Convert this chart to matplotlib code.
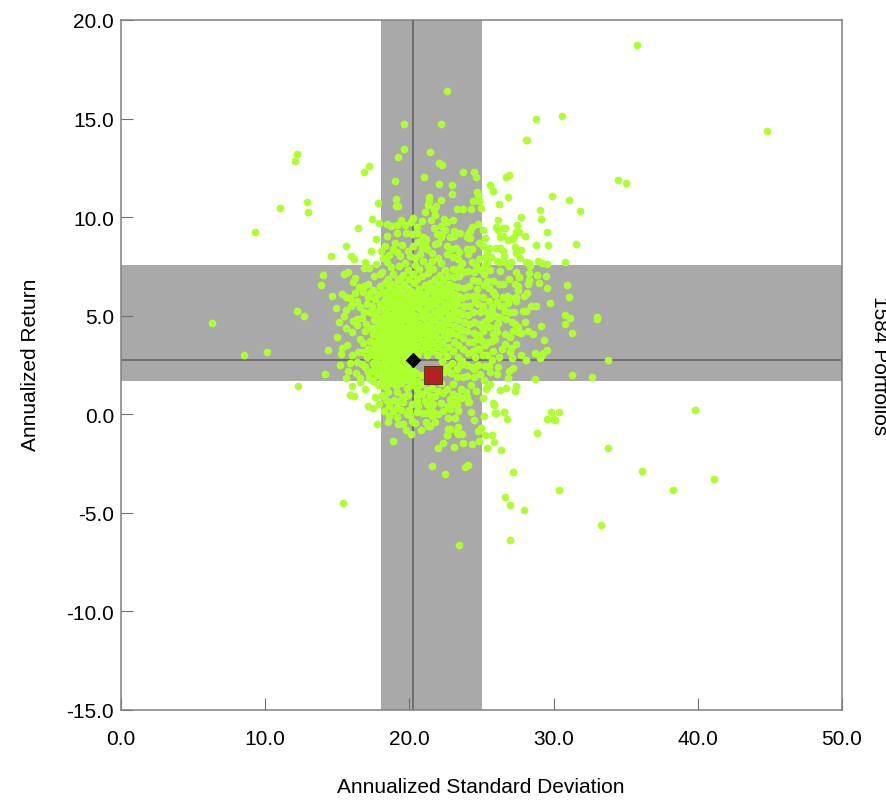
import matplotlib
matplotlib.use("Agg")
import matplotlib.pyplot as plt

plt.rcParams['font.family'] = ['Liberation Sans', 'DejaVu Sans']

# Portfolios: (annualized std dev, annualized return)
outliers = [(6.3,4.65),(8.5,3.0),(10.1,3.15),(9.3,9.25),(11.0,10.45),(12.1,12.85),(12.2,13.2),(12.9,10.75),(13.0,10.25),
(12.2,5.25),(12.7,5.0),(12.3,1.45),(15.4,-4.5),(35.8,18.75),(44.8,14.35),(22.6,16.4),(19.6,14.75),(22.2,14.7),(30.6,15.15),
(28.8,15.0),(28.1,13.9),(34.5,11.9),(35.0,11.75),(39.8,0.2),(41.1,-3.3),(38.3,-3.85),(36.1,-2.9),(33.3,-5.6),(33.8,-1.7),
(30.4,-3.85),(33.0,4.85),(33.8,2.75),(32.65,1.9),(31.3,2.0)]

upper_left = [(19.62,13.46),(19.21,13.04),(21.45,13.29),(22.07,12.73),(22.26,12.62),(17.22,12.58),(16.85,12.28),(19.0,11.84),
(20.99,12.04),(22.07,11.7),(17.82,10.72),(19.05,10.93),(19.05,10.59),(19.23,10.54),(21.36,11.03),(21.38,10.84),(22.19,10.88),
(21.31,10.6),(21.84,10.55),(21.73,10.39),(21.1,10.25),(21.77,10.11),(17.38,9.91),(17.87,9.69),(16.46,9.44),(19.42,9.86),
(20.27,9.95),(20.09,9.74),(18.47,9.64),(18.7,9.57),(19.12,9.61),(19.16,9.22),(20.85,9.79),(21.5,9.84),(22.4,9.91),(22.58,9.74),
(20.5,9.49),(21.73,9.44),(22.21,9.54),(22.47,9.37),(19.78,9.22),(20.15,9.15),(20.5,9.18),(22.24,9.15),(18.44,9.02),(20.92,8.98),
(21.15,8.9),(21.08,8.69),(22.17,8.98),(18.31,8.52),(19.0,8.68),(20.22,8.52),(18.88,8.39),(21.77,8.64),(22.0,8.69),(21.2,8.36),
(15.6,8.56),(17.33,8.27),(14.54,8.05),(15.95,8.02),(16.18,7.88),(16.94,7.73),(16.87,7.43),(14.03,7.09),(15.74,7.24),(15.44,7.12),
(16.22,6.9),(16.06,6.7),(13.87,6.55),(16.85,6.53),(17.57,7.0),(18.12,7.2),(18.47,7.75),(19.11,8.22),(19.35,8.05),(20.04,8.05),
(20.73,8.14),(20.96,7.8),(21.31,7.54),(21.96,7.92),(22.58,8.14),(22.58,8.56)]

upper_right = [(28.14,13.92),(23.7,12.28),(24.48,12.28),(24.62,12.06),(26.68,12.06),(26.89,12.16),(25.57,11.65),(25.78,11.32),
(22.94,11.65),(22.98,11.16),(24.67,11.3),(24.79,11.13),(26.84,11.01),(29.87,11.06),(31.07,10.89),(24.39,10.81),(24.83,10.81),
(26.2,10.67),(31.84,10.3),(24.95,10.47),(24.25,10.42),(23.7,10.39),(23.33,10.4),(29.04,10.37),(27.72,10.03),(29.13,9.9),(23.05,9.86),
(26.15,9.86),(25.99,9.52),(26.13,9.37),(26.52,9.44),(26.66,9.47),(27.44,9.61),(24.74,9.66),(25.11,9.34),(24.32,9.49),(24.21,9.32),
(24.09,9.15),(23.98,8.98),(24.21,8.93),(23.1,9.32),(23.1,9.03),(27.4,9.24),(27.63,9.24),(29.55,9.24),(28.0,9.05),(26.29,8.98),
(26.52,9.03),(26.87,8.86),(27.1,8.9),(27.28,8.98),(25.27,8.93),(24.85,8.69),(28.81,8.58),(29.6,8.59),(31.58,8.64),(27.33,8.49),
(27.77,8.32),(27.4,8.19),(25.53,8.42),(25.13,8.53),(26.01,8.46),(26.29,8.42),(26.47,8.27),(25.36,8.22),(25.66,7.97),(25.25,7.97),
(24.85,7.88),(26.57,8.02),(26.1,7.8),(26.29,7.75),(27.05,7.75),(26.75,7.68),(26.93,7.54),(27.7,7.92),(28.09,7.73),(28.39,7.53),
(28.32,7.66),(28.95,7.78),(29.22,7.68),(29.55,7.61),(30.8,7.75),(25.36,7.68),(25.25,7.54),(25.59,7.31),(26.31,7.29),(24.95,7.34),
(27.4,7.21),(28.32,7.19),(28.85,7.07),(27.61,6.94),(26.89,6.85),(28.21,6.63),(28.97,6.65),(27.56,6.51),(30.94,6.55),(29.57,6.41),
(26.24,6.61),(25.83,6.75),(25.36,6.78),(24.79,6.78),(24.44,6.83),(24.48,7.21),(24.09,7.29),(23.79,7.21),(23.51,7.46),(23.0,7.38),
(23.4,7.88),(23.63,7.68),(23.24,8.42),(23.47,8.25),(23.98,8.36),(24.32,8.39),(24.09,8.14),(24.32,7.75),(23.05,7.97)]

lower_right = [(31.07,5.94),(29.78,5.67),(28.81,5.48),(32.99,4.91),(30.8,5.04),(31.17,4.86),(30.82,4.57),(29.11,4.48),(31.28,4.11),
(29.32,3.77),(28.18,6.16),(27.95,5.99),(27.56,6.28),(27.42,5.94),(27.42,5.75),(26.87,5.63),(26.8,6.02),(26.47,5.94),(26.29,5.48),
(26.52,5.51),(26.63,5.26),(26.98,5.18),(27.26,5.18),(27.86,5.24),(28.09,5.23),(26.31,4.92),(27.33,4.58),(27.56,4.42),(27.17,4.25),
(27.54,4.16),(27.74,4.11),(28.23,4.2),(28.58,4.09),(26.17,4.62),(26.01,4.42),(25.83,4.08),(25.55,4.42),(25.13,4.25),(25.02,4.42),
(25.48,4.84),(25.71,5.18),(25.71,5.43),(25.55,5.77),(25.13,5.51),(24.44,6.02),(24.67,5.99),(25.13,5.94),(25.83,6.19),(25.94,6.06),
(26.06,4.16),(25.94,3.82),(25.48,3.69),(25.71,3.74),(26.63,3.54),(27.05,3.37),(27.42,3.54),(25.25,3.49),(24.67,3.82),(24.44,3.65),
(26.98,3.15),(27.14,2.84),(27.74,3.03),(28.69,3.1),(29.29,3.11),(29.55,3.25),(29.18,3.03),(29.06,2.84),(28.07,2.74),(26.24,2.89),
(25.76,2.74),(24.55,2.89),(25.25,2.47),(25.55,2.44),(26.13,2.42),(25.62,2.12),(26.08,2.03),(26.94,2.18),(27.17,2.34),(26.84,1.83),
(28.72,1.79),(25.18,1.76),(24.51,1.88),(23.98,1.96),(23.7,1.91),(23.28,1.88),(23.0,1.54),(24.25,1.49),(23.58,1.3),(25.59,1.54),
(25.32,1.29),(25.36,1.37),(26.29,1.24),(26.7,1.35),(27.4,1.42),(27.33,1.17),(25.13,0.83),(25.83,0.56),(25.87,0.46),(25.99,0.05),
(26.57,0.12),(26.77,-0.25),(25.16,-0.07),(29.83,0.14),(29.55,-0.22),(29.99,-0.25),(28.83,-0.96),(25.73,-1.06),(25.22,-1.03),
(24.97,-0.69),(24.79,-0.83),(24.51,-0.27),(24.09,0.61),(23.17,-0.2),(23.05,1.03),(23.33,0.86),(23.58,0.83),(22.94,0.61),(23.28,0.53),
(23.4,0.19),(23.28,-0.83),(23.63,-0.99),(23.4,-0.99),(22.82,-0.74)]

lower_left = [(15.32,6.12),(15.58,5.94),(15.88,5.89),(16.22,6.16),(16.76,6.19),(17.15,5.94),(16.11,5.65),(16.39,5.77),(15.92,5.48),
(15.58,5.31),(15.46,5.01),(16.87,5.18),(17.26,5.21),(17.38,5.14),(16.06,4.75),(16.34,4.84),(16.73,4.87),(16.34,4.53),(16.04,4.16),
(16.92,4.25),(16.57,3.82),(14.33,3.27),(15.3,3.35),(15.23,3.08),(16.46,3.15),(16.69,3.15),(15.18,2.5),(15.76,2.2),(14.17,2.05),
(15.6,1.84),(16.57,1.84),(16.57,1.62),(16.04,1.42),(15.85,1.0),(16.13,0.95),(17.59,0.86),(17.8,1.49),(17.22,1.83),(17.45,1.71),
(17.15,2.17),(16.92,2.39),(16.34,2.64),(17.03,2.89),(17.75,-0.51),(18.49,-0.4),(19.14,-0.15),(18.26,0.15),(18.88,0.15),(18.61,0.41),
(18.61,0.61),(19.11,0.32),(18.07,1.0),(19.53,-0.47),(19.74,-0.78),(20.11,-1.0),(20.8,-0.78),(21.31,-0.59),(21.15,-0.4),(20.39,-0.44),
(20.2,-0.34),(19.81,0.0),(20.04,-0.03),(20.5,0.1),(20.85,0.07),(21.15,0.07),(21.54,-0.07),(21.66,0.14),(22.31,0.17),(22.17,0.58),
(21.2,0.53),(22.58,-1.05),(22.7,-0.74),(22.35,1.08),(21.77,0.95),(21.43,0.78),(20.62,0.44),(20.16,0.53),(19.58,0.61),(19.23,0.61),
(19.69,0.95),(19.11,1.12),(18.54,1.12),(20.5,0.95),(18.84,-1.34),(21.32,-0.61),(21.43,-0.58),(22.77,-0.76),(23.33,-0.88),(23.4,-0.66),
(22.61,-1.07),(22.31,-1.47),(22.01,-1.73),(23.07,-1.66),(23.72,-1.44),(24.37,-1.49),(24.81,-1.35),(25.89,-1.42),(25.39,-1.71),
(26.38,-1.81),(21.59,-2.64),(22.5,-3.03),(23.86,-2.66),(24.07,-2.59),(27.17,-2.94),(26.63,-4.21),(27.0,-4.58),(27.97,-4.84),
(26.98,-6.39),(23.47,-6.65),(26.54,0.12),(25.96,0.05),(25.87,0.52),(22.82,0.27),(22.66,0.44),(22.2,0.57),(21.66,0.52),(21.43,0.35),
(21.08,0.66),(20.51,0.69),(18.2,0.95),(19.47,0.86),(21.43,0.95),(22.82,0.78),(23.4,0.95),(23.17,0.52),(24.11,0.62),(23.35,0.24),(30.4,0.1),(30.1,-0.3)]

# Dense cloud around the two centres
core_left = [(17.4,2.2),(17.5,2.6),(17.35,3.0),(17.55,3.35),(17.3,3.7),(17.5,4.05),(17.35,4.4),(17.55,4.8),(17.4,5.5),(17.6,5.85),(17.45,6.3),
(17.75,2.0),(17.8,2.35),(17.7,2.75),(17.85,3.1),(17.75,3.5),(17.85,3.85),(17.7,4.2),(17.9,4.55),(17.75,4.95),(17.9,5.3),(17.8,6.1),(17.95,6.5),
(18.05,1.5),(18.1,1.85),(18.15,2.2),(18.05,2.55),(18.2,2.9),(18.1,3.25),(18.2,3.6),(18.05,3.95),(18.2,4.3),(18.1,4.65),(18.25,5.0),(18.1,5.4),(18.25,5.75),(18.15,6.2),(18.3,6.65),
(18.4,1.4),(18.45,1.75),(18.5,2.1),(18.4,2.45),(18.5,2.8),(18.45,3.15),(18.55,3.5),(18.4,3.85),(18.55,4.2),(18.45,4.55),(18.55,4.9),(18.4,5.25),(18.55,5.6),(18.45,5.95),(18.6,6.35),(18.5,6.85),
(18.75,1.6),(18.8,1.95),(18.85,2.3),(18.75,2.65),(18.85,3.0),(18.8,3.35),(18.9,3.7),(18.75,4.05),(18.9,4.4),(18.8,4.75),(18.9,5.1),(18.75,5.45),(18.9,5.8),(18.8,6.15),(18.95,6.55),(18.85,7.1),(18.7,7.45),
(19.1,1.45),(19.15,1.8),(19.2,2.15),(19.1,2.5),(19.2,2.85),(19.15,3.2),(19.25,3.55),(19.1,3.9),(19.25,4.25),(19.15,4.6),(19.25,4.95),(19.1,5.3),(19.25,5.65),(19.15,6.0),(19.3,6.4),(19.2,6.8),(19.25,7.5),
(19.45,1.6),(19.5,1.95),(19.55,2.3),(19.45,2.65),(19.55,3.0),(19.5,3.35),(19.6,3.7),(19.45,4.05),(19.6,4.4),(19.5,4.75),(19.6,5.1),(19.45,5.45),(19.6,5.8),(19.5,6.2),(19.65,6.6),(19.55,7.05),(19.7,7.65),
(19.8,1.35),(19.85,1.75),(19.9,2.1),(19.8,2.45),(19.9,3.15),(19.85,3.5),(19.95,3.85),(19.8,4.2),(19.95,4.55),(19.85,4.9),(19.95,5.25),(19.8,5.6),(19.95,5.95),(19.85,6.4),(20.0,6.85),(19.9,7.3),
(20.15,1.5),(20.2,1.9),(20.25,2.2),(20.2,3.3),(20.25,3.65),(20.15,4.0),(20.3,4.35),(20.2,4.7),(20.3,5.05),(20.15,5.4),(20.3,5.8),(20.2,6.2),(20.35,6.65),(20.25,7.1),(20.4,7.55),
(20.5,1.3),(20.55,1.7),(20.45,2.1),(20.6,3.05),(20.5,3.45),(20.6,3.85),(20.5,4.2),(20.65,4.6),(20.5,5.0),(20.65,5.4),(20.55,5.85),(20.65,6.35),(20.55,6.85),(20.7,7.35)]

core_right = [(20.85,1.55),(20.9,2.0),(20.95,3.3),(20.85,3.7),(21.0,4.1),(20.85,4.5),(21.0,4.9),(20.9,5.3),(21.0,5.7),(20.9,6.1),(21.05,6.55),(20.9,7.0),
(21.2,1.25),(21.25,3.0),(21.3,3.4),(21.2,3.8),(21.35,4.2),(21.25,4.6),(21.35,5.0),(21.2,5.4),(21.35,5.8),(21.25,6.2),(21.4,6.65),(21.3,7.15),
(21.55,3.2),(21.65,3.6),(21.55,4.0),(21.7,4.4),(21.6,4.8),(21.7,5.2),(21.55,5.6),(21.7,6.0),(21.6,6.4),(21.75,6.85),(21.65,7.35),
(22.2,1.6),(22.0,1.2),(22.0,3.0),(21.9,3.4),(22.0,3.8),(21.9,4.2),(22.05,4.6),(21.95,5.0),(22.05,5.4),(21.9,5.8),(22.05,6.2),(21.95,6.6),(22.1,7.05),
(22.25,2.7),(22.35,3.2),(22.25,3.6),(22.4,4.0),(22.3,4.4),(22.4,4.8),(22.25,5.2),(22.4,5.6),(22.3,6.0),(22.4,6.4),(22.3,6.8),(22.45,7.3),
(22.6,2.4),(22.6,2.95),(22.7,3.4),(22.6,3.85),(22.75,4.25),(22.65,4.65),(22.75,5.05),(22.6,5.45),(22.75,5.85),(22.65,6.2),(22.75,6.6),(22.65,7.0),
(22.95,2.6),(23.0,3.2),(23.1,3.65),(22.95,4.1),(23.1,4.5),(23.0,4.9),(23.1,5.3),(22.95,5.7),(23.1,6.1),(23.0,6.5),(23.1,6.95),
(23.3,2.3),(23.35,2.9),(23.4,3.5),(23.3,4.0),(23.45,4.4),(23.35,4.8),(23.45,5.2),(23.3,5.6),(23.45,6.0),(23.35,6.45),(23.45,7.0),
(23.65,2.7),(23.7,3.3),(23.75,3.85),(23.65,4.3),(23.8,4.7),(23.7,5.1),(23.8,5.5),(23.65,5.9),(23.8,6.4),
(24.0,2.5),(24.05,3.1),(24.1,3.65),(24.0,4.2),(24.15,4.6),(24.05,5.05),(24.15,5.5),(24.0,6.0),(24.15,6.5),
(24.35,2.4),(24.4,3.2),(24.45,4.1),(24.5,4.7),(24.4,5.2),(24.55,5.7),
(24.75,2.5),(24.8,3.3),(24.85,4.0),(24.8,4.6),(24.9,5.2),(24.75,5.6)]

core_left_extra = [(17.6,2.4),(17.6,3.0),(17.6,3.6),(17.6,4.4),(17.6,5.2),(17.95,2.2),(17.95,2.95),(17.95,3.4),(17.95,4.1),(17.95,4.85),(17.95,5.6),
(18.3,1.6),(18.3,2.35),(18.3,2.7),(18.3,3.4),(18.3,4.05),(18.3,4.75),(18.3,5.3),(18.35,6.0),(18.65,1.85),(18.65,2.25),(18.65,2.95),(18.65,3.7),(18.65,4.4),(18.65,5.05),(18.65,5.75),(18.7,6.6),
(19.0,1.65),(19.0,2.1),(19.0,2.7),(19.0,3.5),(19.0,4.2),(19.0,4.9),(19.0,5.6),(19.0,6.35),(19.35,1.75),(19.35,2.4),(19.35,3.1),(19.35,3.8),(19.35,4.45),(19.35,5.2),(19.35,5.9),(19.35,6.9),
(19.7,2.15),(19.7,2.85),(19.7,3.55),(19.7,4.0),(19.7,4.85),(19.7,5.35),(19.7,6.0),(20.05,1.7),(20.05,3.4),(20.05,4.15),(20.05,5.0),(20.05,5.7),(20.05,6.3),(20.4,3.3),(20.4,4.0),(20.4,4.75),(20.4,5.6),(20.4,6.1)]

core_right_extra = [(20.75,4.05),(20.75,5.0),(20.8,5.75),(21.1,3.6),(21.1,4.4),(21.1,5.2),(21.1,6.0),(21.45,3.85),(21.45,4.55),(21.45,5.5),(21.45,6.3),
(21.8,4.0),(21.8,4.8),(21.8,5.6),(21.85,6.35),(22.15,4.35),(22.15,5.1),(22.15,5.85),(22.15,6.55),(22.5,4.6),(22.5,5.3),(22.5,6.1),(22.85,5.0),(22.85,5.55),(22.85,6.35),(23.2,5.1),(23.2,5.85)]

# Middle-density ring around the core
ring = [(14.6,6.0),(14.9,5.4),(15.1,4.7),(15.0,3.9),(15.6,4.4),(15.7,3.5),(16.0,3.0),(15.9,2.6),(16.3,2.1),(16.7,2.55),(16.8,3.6),(17.1,3.3),
(17.0,4.6),(17.05,5.6),(16.6,5.45),(16.5,6.45),(17.1,6.6),(17.25,6.15),(17.2,7.4),(17.7,7.6),(17.95,7.1),(18.2,7.95),(18.6,8.1),(19.5,8.6),(19.7,9.6),
(19.9,8.3),(20.6,8.75),(20.4,7.95),(21.6,8.2),(21.9,9.15),(22.8,9.0),(23.5,9.2),(22.9,8.4),(23.3,7.3),(22.2,7.65),(21.6,7.8),(20.9,8.45),(18.0,8.3),(17.7,8.9),
(16.9,1.3),(17.1,0.4),(17.5,0.3),(17.9,0.5),(18.4,0.7),(19.4,0.2),(18.9,0.75),(19.9,1.0),(20.9,1.05),(21.6,1.35),(22.6,1.3),(22.9,2.1),(22.4,2.15),(23.5,2.5),
(24.0,0.9),(24.6,1.2),(24.9,2.05),(24.3,0.1),(25.4,3.0),(25.1,3.0),(25.8,3.2),(26.4,3.3),(26.6,4.05),(27.1,4.7),(27.0,5.9),(26.1,5.7),(26.5,6.6),(25.5,6.4),
(25.2,6.55),(25.2,7.1),(24.6,7.5),(24.7,6.35),(25.4,5.2),(25.2,4.7),(25.0,3.7),(24.7,3.3),(24.5,2.3),(25.6,4.9),(26.0,5.0),(26.7,4.85),(27.0,3.9),(28.0,4.7),
(28.4,5.5),(28.3,6.8),(27.3,6.6),(29.5,7.0),(23.9,1.15),(22.7,-0.2),(22.0,0.0),(21.8,-0.4),(20.0,0.2),(19.2,-0.5),(18.6,-0.1)]

xs_ys = outliers + upper_left + upper_right + lower_right + lower_left + core_left + core_right + core_left_extra + core_right_extra + ring
port_x = [p[0] for p in xs_ys]
port_y = [p[1] for p in xs_ys]

x_band = (18.0, 25.0)
y_band = (1.7, 7.55)
bench_x, bench_y = 20.25, 2.75
fund_x, fund_y = 21.65, 1.98
x_ticks = [0, 10, 20, 30, 40, 50]
y_ticks = [-15, -10, -5, 0, 5, 10, 15, 20]

W, H = 886, 804
fig = plt.figure(figsize=(W/100, H/100), dpi=100, facecolor='white')
ax = fig.add_axes([121/W, (H-711)/H, 721/W, 690/H])
ax.set_xlim(0, 50)
ax.set_ylim(-15, 20)

ax.axvspan(*x_band, color='#A9A9A9', lw=0, zorder=1)
ax.axhspan(*y_band, color='#A9A9A9', lw=0, zorder=1)
ax.axvline(bench_x, color='#5f5f5f', lw=1.1, zorder=2)
ax.axhline(bench_y, color='#5f5f5f', lw=1.1, zorder=2)

ax.scatter(port_x, port_y, s=31, color='#ADFF2F', lw=0, zorder=3)
ax.scatter([bench_x], [bench_y], marker='D', s=62, color='black', lw=0, zorder=5)
ax.scatter([fund_x], [fund_y], marker='s', s=185, color='#B22222', edgecolor='#5a3a1a', lw=0.8, zorder=4)

ax.set_xticks(x_ticks)
ax.set_xticklabels([f'{v:.1f}' for v in x_ticks])
ax.set_yticks(y_ticks)
ax.set_yticklabels([f'{v:.1f}' for v in y_ticks])
ax.tick_params(axis='both', direction='in', length=8.5, width=0.8, color='#707070', labelsize=15, labelcolor='black')
ax.tick_params(axis='x', pad=14)
ax.tick_params(axis='y', pad=5)
for s in ax.spines.values():
    s.set_color('#808080')
    s.set_linewidth(1.1)

fig.text(481/W, 1-788/H, 'Annualized Standard Deviation', ha='center', va='center', fontsize=15)
fig.text(30/W, 1-365/H, 'Annualized Return', ha='center', va='center', rotation=90, fontsize=15)
fig.text(879/W, 1-366/H, '1584 Portfolios', ha='center', va='center', rotation=-90, fontsize=15)

fig.savefig('out.png', dpi=100)
